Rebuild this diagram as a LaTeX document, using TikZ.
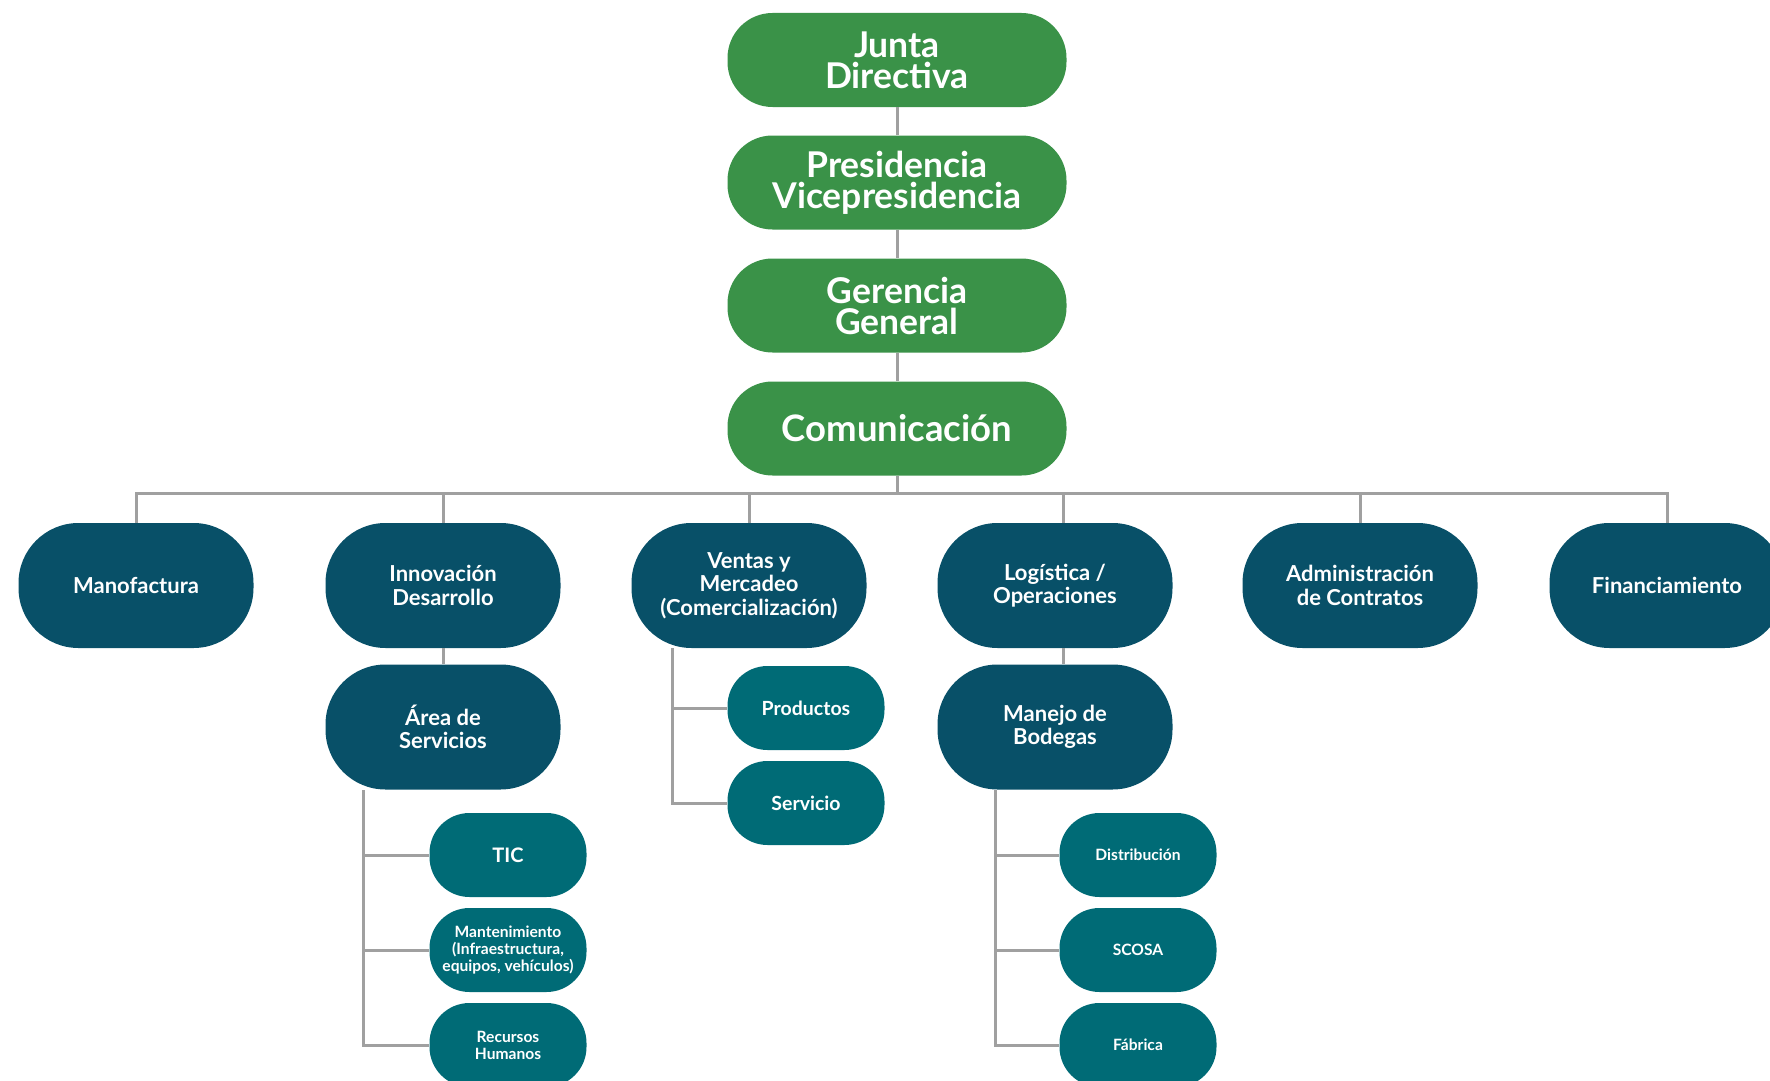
\documentclass[tikz,border=0pt]{standalone}
\usepackage{fontspec}
\setmainfont{Lato}
\definecolor{verde}{RGB}{58,146,72}
\definecolor{azul}{RGB}{8,80,104}
\definecolor{petroleo}{RGB}{0,107,118}
\definecolor{linea}{RGB}{160,160,160}
\begin{document}
\begin{tikzpicture}[x=1pt,y=-1pt,
		enlace/.style={draw=linea,line width=3pt},
		mando/.style={fill=verde,text=white,rounded corners=45pt,minimum width=339pt,minimum height=94pt,inner sep=0pt,align=center,font=\fontsize{35.5}{31}\selectfont\bfseries},
		dept/.style={fill=azul,text=white,rounded corners=60pt,minimum width=235pt,minimum height=125pt,inner sep=0pt,align=center,font=\fontsize{22}{23.5}\selectfont\bfseries},
		unidad/.style={fill=petroleo,text=white,rounded corners=40pt,minimum width=157pt,minimum height=84pt,inner sep=0pt,align=center,font=\fontsize{19.5}{21}\selectfont\bfseries},
		unidadp/.style={unidad,font=\fontsize{15.6}{17}\selectfont\bfseries}]
		
		\useasboundingbox (0,0) rectangle (1770,1081);
		
		\node(jd) at (897,60)[mando]{Junta\\Directiva};
		\node(pv) at (897,182.5)[mando]{Presidencia\\Vicepresidencia};
		\node(gg) at (897,305.5)[mando]{Gerencia\\General};
		\node(com) at (897,428.5)[mando,font=\fontsize{36.5}{31}\selectfont\bfseries]{Comunicación};
		
		\node(mano) at (136,585.5)[dept]{Manofactura};
		\node(inno) at (443,585.5)[dept]{Innovación\\Desarrollo};
		\node(vent) at (749,585.5)[dept]{Ventas y\\Mercadeo\\(Comercialización)};
		\node(logi) at (1055,585.5)[dept]{Logística /\\Operaciones};
		\node(adm) at (1360,585.5)[dept]{Administración\\de Contratos};
		\node(fin) at (1667,585.5)[dept]{Financiamiento};
		\node(area) at (443,727)[dept]{Área de\\Servicios};
		\node(bod) at (1055,727)[dept]{Manejo de\\Bodegas};
		
		\node(prod) at (806,708)[unidad]{Productos};
		\node(serv) at (806,803)[unidad]{Servicio};
		\node(tic) at (508,855)[unidad,font=\fontsize{20}{22}\selectfont\bfseries]{TIC};
		\node(mant) at (508,950)[unidadp]{Mantenimiento\\(Infraestructura,\\equipos, vehículos)};
		\node(rh) at (508,1045)[unidadp]{Recursos\\Humanos};
		\node(dist) at (1138,855)[unidadp]{Distribución};
		\node(scosa) at (1138,950)[unidadp]{SCOSA};
		\node(fab) at (1138,1045)[unidadp]{Fábrica};
		
		\coordinate(barra) at (897,493);
		\coordinate(vL) at (672,648);
		\coordinate(aL) at (363,790);
		\coordinate(bL) at (995,790);
		
		\draw[enlace] (jd) -- (pv);
		\draw[enlace] (pv) -- (gg);
		\draw[enlace] (gg) -- (com);
		\draw[enlace] (com) -- (barra);
		\draw[enlace] (mano.north) -- (mano.north |- barra) -- (fin.north |- barra) -- (fin.north);
		\draw[enlace] (inno) -- (inno |- barra);
		\draw[enlace] (vent) -- (vent |- barra);
		\draw[enlace] ([xshift=8pt]logi.north) -- ([xshift=8pt]logi.north |- barra);
		\draw[enlace] (adm) -- (adm |- barra);
		\draw[enlace] (inno) -- (area);
		\draw[enlace] ([xshift=8pt]logi.south) -- ([xshift=8pt]bod.north);
		\draw[enlace] (vL) |- (prod.west);
		\draw[enlace] (vL) |- (serv.west);
		\draw[enlace] (aL) |- (tic.west);
		\draw[enlace] (aL) |- (mant.west);
		\draw[enlace] (aL) |- (rh.west);
		\draw[enlace] (bL) |- (dist.west);
		\draw[enlace] (bL) |- (scosa.west);
		\draw[enlace] (bL) |- (fab.west);
		
	\end{tikzpicture}
\end{document}
